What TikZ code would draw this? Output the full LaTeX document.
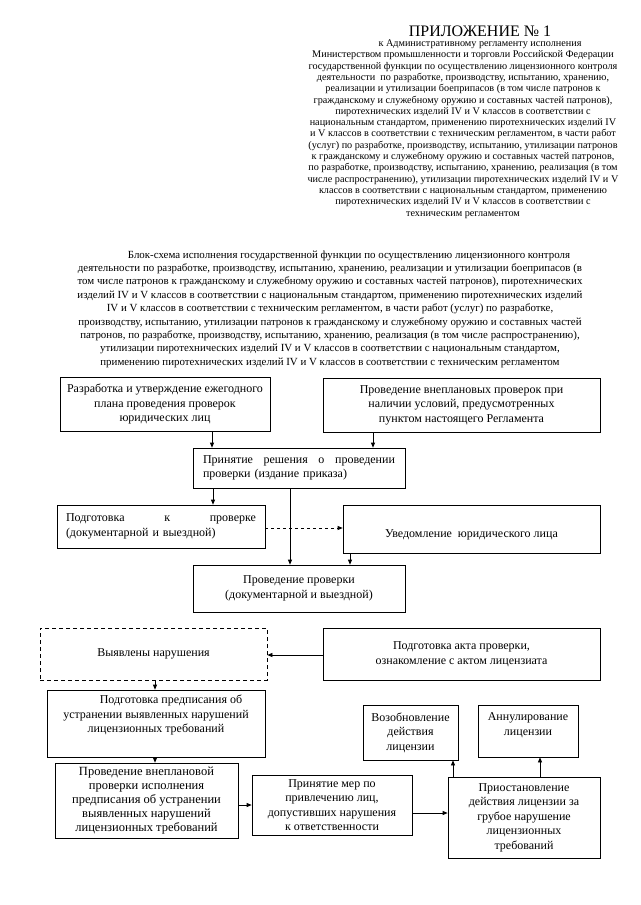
\documentclass[tikz,border=0pt]{standalone}
\usepackage{fontspec}
\setmainfont{Liberation Serif}
\usetikzlibrary{arrows.meta}
\begin{document}
\begin{tikzpicture}[x=1pt,y=-1pt,
  bx/.style={draw, line width=0.7pt, inner sep=0pt, align=center, font=\fontsize{12}{14.5}\selectfont},
  dbx/.style={bx, dash pattern=on 4pt off 3pt},
  tx/.style={inner sep=0pt, align=center, font=\fontsize{12}{14.5}\selectfont},
  arr/.style={-{Triangle[length=5pt,width=4pt]}, line width=0.7pt},
  darr/.style={arr, dash pattern=on 3pt off 3pt},
]
\useasboundingbox (0,0) rectangle (640,905);
\fill[white] (0,0) rectangle (640,905);

% header
\node[inner sep=0pt, font=\fontsize{16}{18}\selectfont] (appx) at (480,31) {ПРИЛОЖЕНИЕ № 1};
\node[inner sep=0pt, align=center, font=\fontsize{10.2}{11.3}\selectfont] (hdr) at (463,129) {%
\hspace*{34pt}к Административному регламенту исполнения\\
Министерством промышленности и торговли Российской Федерации\\
государственной функции по осуществлению лицензионного контроля\\
деятельности~ по разработке, производству, испытанию, хранению,\\
реализации и утилизации боеприпасов (в том числе патронов к\\
гражданскому и служебному оружию и составных частей патронов),\\
пиротехнических изделий IV и V классов в соответствии с\\
национальным стандартом, применению пиротехнических изделий IV\\
и V классов в соответствии с техническим регламентом, в части работ\\
(услуг) по разработке, производству, испытанию, утилизации патронов\\
к гражданскому и служебному оружию и составных частей патронов,\\
по разработке, производству, испытанию, хранению, реализация (в том\\
числе распространению), утилизации пиротехнических изделий IV и V\\
классов в соответствии с национальным стандартом, применению\\
пиротехнических изделий IV и V классов в соответствии с\\
техническим регламентом};

% title
\node[inner sep=0pt, align=center, font=\fontsize{10.9}{13.4}\selectfont] (ttl) at (330,309) {%
\hspace*{38pt}Блок-схема исполнения государственной функции по осуществлению лицензионного контроля\\
деятельности по разработке, производству, испытанию, хранению, реализации и утилизации боеприпасов (в\\
том числе патронов к гражданскому и служебному оружию и составных частей патронов), пиротехнических\\
изделий IV и V классов в соответствии с национальным стандартом, применению пиротехнических изделий\\
IV и V классов в соответствии с техническим регламентом, в части работ (услуг) по разработке,\\
производству, испытанию, утилизации патронов к гражданскому и служебному оружию и составных частей\\
патронов, по разработке, производству, испытанию, хранению, реализация (в том числе распространению),\\
утилизации пиротехнических изделий IV и V классов в соответствии с национальным стандартом,\\
применению пиротехнических изделий IV и V классов в соответствии с техническим регламентом};

% boxes
\node[bx, minimum width=210pt, minimum height=54pt] (b1) at (165,404) {Разработка и утверждение ежегодного\\плана проведения проверок\\юридических лиц};
\node[bx, minimum width=277pt, minimum height=54pt] (b2) at (461.5,405) {Проведение внеплановых проверок при\\наличии условий, предусмотренных\\пунктом настоящего Регламента};
\node[bx, minimum width=212pt, minimum height=40pt, text width=192pt, align=left] (b3) at (299,468) {Принятие\hfill решения\hfill о\hfill проведении\\проверки (издание приказа)};
\node[bx, minimum width=208pt, minimum height=43pt, text width=190pt, align=left] (b4) at (161,526.5) {Подготовка\hfill к\hfill проверке\\(документарной и выездной)};
\node[bx, minimum width=257pt, minimum height=48pt] (b5) at (471.5,529) {};
\node[tx] (b5t) at (471.5,535) {Уведомление~ юридического лица};
\node[bx, minimum width=212pt, minimum height=47pt] (b6) at (299,588.5) {Проведение проверки\\(документарной и выездной)};
\node[dbx, minimum width=227pt, minimum height=52pt] (b7) at (153.5,654) {Выявлены нарушения};
\node[bx, minimum width=277pt, minimum height=52pt] (b8) at (461.5,654) {Подготовка акта проверки,\\ознакомление с актом лицензиата};
\node[bx, minimum width=218pt, minimum height=67pt] (b9) at (156,723.5) {};
\node[tx] (b9t) at (156,715) {\hspace*{30pt}Подготовка предписания об\\устранении выявленных нарушений\\лицензионных требований};
\node[bx, minimum width=95pt, minimum height=55pt] (b10) at (410.5,732.5) {Возобновление\\действия\\лицензии};
\node[bx, minimum width=100pt, minimum height=52pt] (b11) at (528,731) {};
\node[tx] (b11t) at (528,725) {Аннулирование\\лицензии};
\node[bx, minimum width=183pt, minimum height=75pt, font=\fontsize{12.5}{14}\selectfont] (b12) at (146.5,800.5) {Проведение внеплановой\\проверки исполнения\\предписания об устранении\\выявленных нарушений\\лицензионных требований};
\node[bx, minimum width=160pt, minimum height=60pt] (b13) at (332,805) {Принятие мер по\\привлечению лиц,\\допустивших нарушения\\к ответственности};
\node[bx, minimum width=152pt, minimum height=81pt] (b14) at (524,817.5) {Приостановление\\действия лицензии за\\грубое нарушение\\лицензионных\\требований};

% connectors
\draw[arr] (b1.south -| 212,0) -- (b3.north -| 212,0);
\draw[arr] (b2.south -| 373,0) -- (b3.north -| 373,0);
\draw[arr] (b3.south -| 213,0) -- (b4.north -| 213,0);
\draw[arr] (b3.south -| 290,0) -- (b6.north -| 290,0);
\draw[darr] (b4.east |- 0,528) -- (b5.west |- 0,528);
\draw[arr] (b5.south -| 350,0) -- (b6.north -| 350,0);
\draw[arr] (b8.west |- 0,655) -- (b7.east |- 0,655);
\draw[arr] (b7.south -| 155,0) -- (b9.north -| 155,0);
\draw[arr] (b9.south -| 155,0) -- (b12.north -| 155,0);
\draw[arr] (b12.east |- 0,805) -- (b13.west |- 0,805);
\draw[arr] (b13.east |- 0,813) -- (b14.west |- 0,813);
\draw[arr] (b14.north -| 453,0) -- (b10.south -| 453,0);
\draw[arr] (b14.north -| 540,0) -- (b11.south -| 540,0);
\end{tikzpicture}
\end{document}
